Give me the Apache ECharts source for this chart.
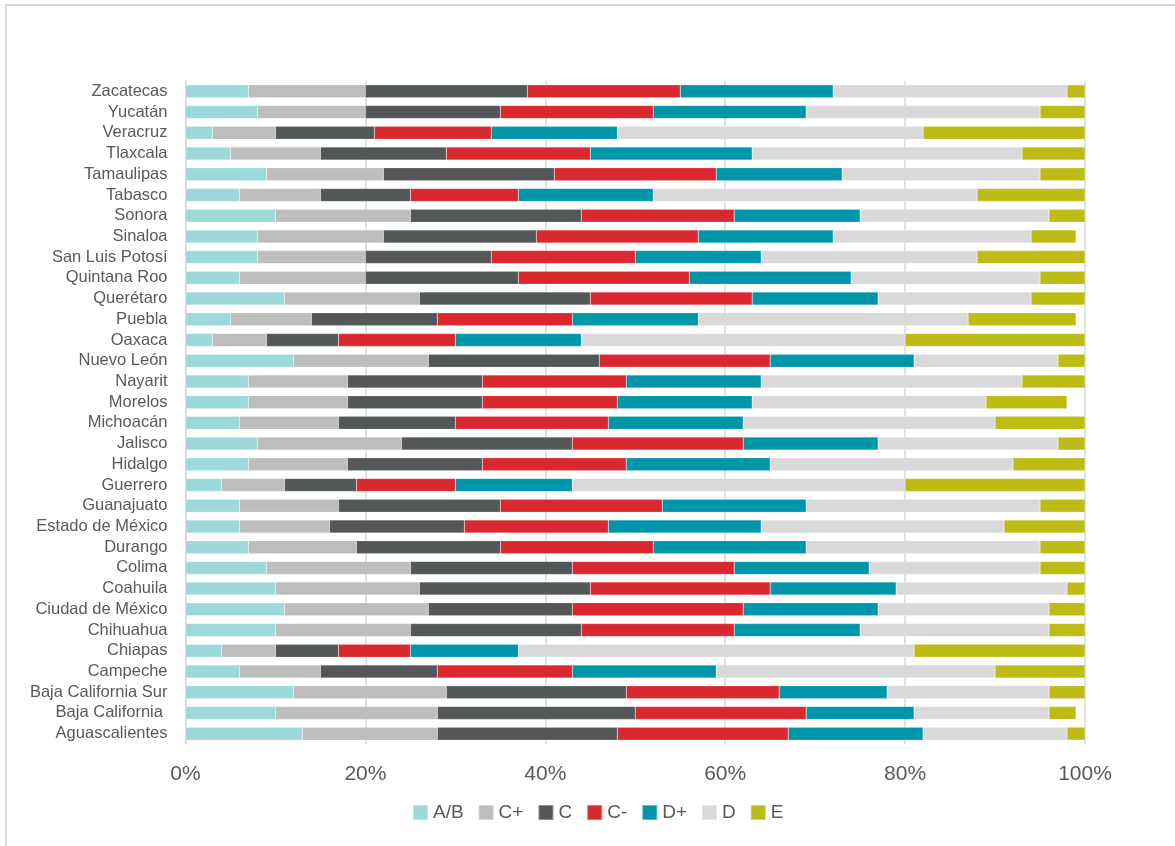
<!DOCTYPE html>
<html>
<head>
<meta charset="utf-8">
<script src="https://cdn.jsdelivr.net/npm/echarts@6/dist/echarts.min.js"></script>
<style>
  html, body { margin: 0; padding: 0; background: #ffffff; }
  #chart { width: 1175px; height: 846px; }
</style>
</head>
<body>
<div id="chart"></div>
<script>
// States, listed bottom to top
const states = [
  'Aguascalientes', 'Baja California ', 'Baja California Sur', 'Campeche', 'Chiapas',
  'Chihuahua', 'Ciudad de México', 'Coahuila', 'Colima', 'Durango', 'Estado de México',
  'Guanajuato', 'Guerrero', 'Hidalgo', 'Jalisco', 'Michoacán', 'Morelos', 'Nayarit',
  'Nuevo León', 'Oaxaca', 'Puebla', 'Querétaro', 'Quintana Roo', 'San Luis Potosí',
  'Sinaloa', 'Sonora', 'Tabasco', 'Tamaulipas', 'Tlaxcala', 'Veracruz', 'Yucatán', 'Zacatecas'
];

// Share of households per socioeconomic level (%), same order as states
const levelAB     = [13,10,12,6,4,10,11,10,9,7,6,6,4,7,8,6,7,7,12,3,5,11,6,8,8,10,6,9,5,3,8,7];
const levelCplus  = [15,18,17,9,6,15,16,16,16,12,10,11,7,11,16,11,11,11,15,6,9,15,14,12,14,15,9,13,10,7,12,13];
const levelC      = [20,22,20,13,7,19,16,19,18,16,15,18,8,15,19,13,15,15,19,8,14,19,17,14,17,19,10,19,14,11,15,18];
const levelCminus = [19,19,17,15,8,17,19,20,18,17,16,18,11,16,19,17,15,16,19,13,15,18,19,16,18,17,12,18,16,13,17,17];
const levelDplus  = [15,12,12,16,12,14,15,14,15,17,17,16,13,16,15,15,15,15,16,14,14,14,18,14,15,14,15,14,18,14,17,17];
const levelD      = [16,15,18,31,44,21,19,19,19,26,27,26,37,27,20,28,26,29,16,36,30,17,21,24,22,21,36,22,30,34,26,26];
const levelE      = [2,3,4,10,19,4,4,2,5,5,9,5,20,8,3,10,9,7,3,20,12,6,5,12,5,4,12,5,7,18,5,2];

const levelNames = ['A/B', 'C+', 'C', 'C-', 'D+', 'D', 'E'];
const levelData = [levelAB, levelCplus, levelC, levelCminus, levelDplus, levelD, levelE];
const levelColors = ['#9dd9d9', '#bdbdbd', '#535758', '#d9282f', '#0096aa', '#d9d9d9', '#bcbc15'];

const FONT = "'Liberation Sans', Arial, sans-serif";
const TEXT = '#595959';

const chart = echarts.init(document.getElementById('chart'), null, { renderer: 'canvas' });

chart.setOption({
  backgroundColor: '#ffffff',
  animation: false,
  textStyle: { fontFamily: FONT },
  graphic: [{
    type: 'rect',
    shape: { x: 6, y: 5, width: 1400, height: 1000 },
    style: { fill: 'none', stroke: '#d9d9d9', lineWidth: 2 },
    silent: true
  }],
  grid: { left: 185.5, right: 90, top: 81, bottom: 102, containLabel: false },
  legend: {
    left: 407,
    top: 798,
    itemWidth: 15,
    itemHeight: 15,
    itemGap: 14,
    icon: 'rect',
    textStyle: { color: TEXT, fontSize: 19, fontFamily: FONT },
    data: levelNames
  },
  xAxis: {
    type: 'value',
    min: 0,
    max: 100,
    interval: 20,
    axisLine: { show: false },
    axisTick: { show: false },
    axisLabel: {
      color: TEXT, fontSize: 21, fontFamily: FONT, margin: 20,
      formatter: '{value}%'
    },
    splitLine: { show: true, lineStyle: { color: '#d9d9d9', width: 1.5 } }
  },
  yAxis: {
    type: 'category',
    data: states,
    axisLine: { show: true, lineStyle: { color: '#d9d9d9', width: 1.5 } },
    axisTick: { show: false },
    axisLabel: { color: TEXT, fontSize: 16.5, fontFamily: FONT, margin: 18, interval: 0 }
  },
  series: levelNames.map((name, i) => ({
    name: name,
    type: 'bar',
    stack: 'nse',
    barWidth: 13,
    data: levelData[i],
    itemStyle: { color: levelColors[i], borderColor: 'rgba(255,255,255,0.35)', borderWidth: 0.5 },
    emphasis: { disabled: true }
  }))
});
</script>
</body>
</html>
